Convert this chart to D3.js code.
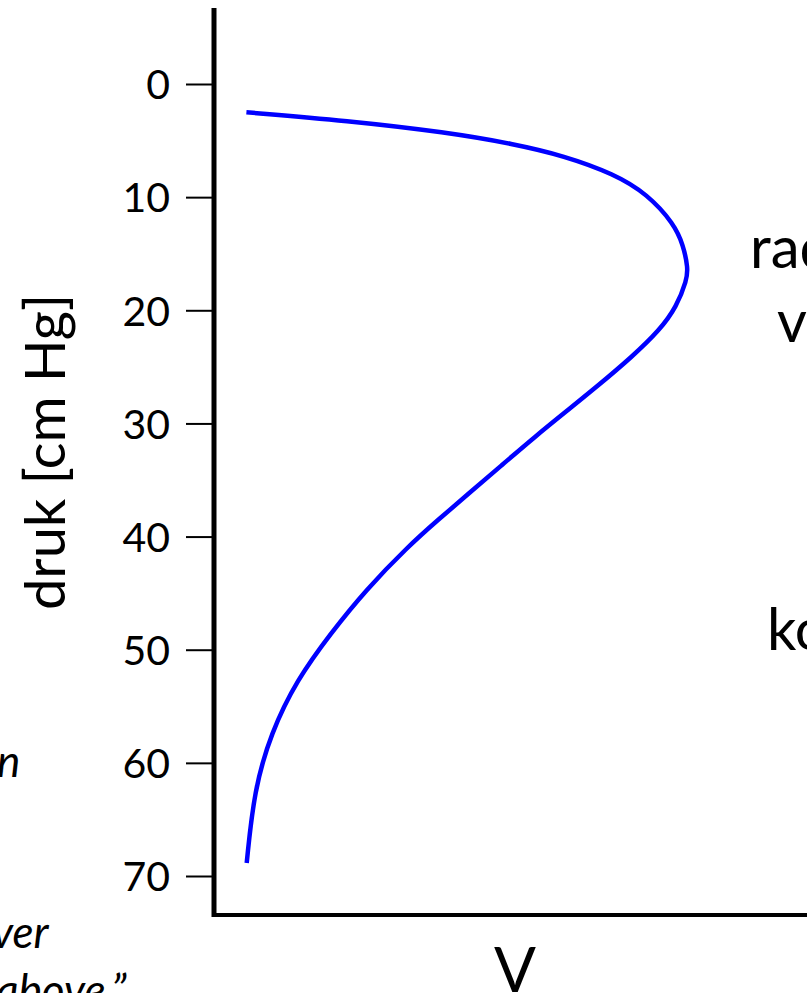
<!DOCTYPE html>
<html>
<head>
<meta charset="utf-8">
<script src="https://cdn.jsdelivr.net/npm/d3@7"></script>
<style>
  html, body { margin: 0; padding: 0; background: #fff; overflow: hidden; }
  svg { display: block; }
  text { font-family: Lato, "Open Sans", sans-serif; fill: #000; }
</style>
</head>
<body>
<svg id="chart" width="807" height="993"></svg>
<script>
// ---- data ----
const pressure = [2.5, 3.24, 4.27, 5.3, 6.34, 7.95, 9.72, 12.37, 14.23, 16.26, 17.32, 19.68, 21.74, 24.1, 26.75, 28.81, 31.17, 33.67, 36.18, 38.54, 40.9, 44.72, 48.52, 52.67, 57.36, 62.4, 68.85];
const volume   = [0.54, 2.22, 3.88, 5.0, 5.83, 6.67, 7.22, 7.67, 7.82, 7.9, 7.88, 7.71, 7.43, 6.97, 6.38, 5.9, 5.35, 4.8, 4.25, 3.73, 3.23, 2.53, 1.95, 1.38, 0.95, 0.67, 0.545];
const yTicks = [0, 10, 20, 30, 40, 50, 60, 70];
const yLabel = "druk [cm Hg]";
const xLabel = "V";
const rightTexts = ["rad", "v", "ko"];
const leftTexts = ["n", "ver", "above.\u201D"];

// ---- layout ----
const svg = d3.select("#chart");
const W = 807, H = 993;
const axisX = 214, axisBottom = 915, axisTop = 8;

const x = d3.scaleLinear().domain([0, 10]).range([axisX, axisX + 600]);
const y = d3.scaleLinear().domain([0, 70]).range([84, 876]);

// y axis ticks + labels
const yAxis = d3.axisLeft(y).tickValues(yTicks).tickSize(28).tickPadding(16).tickSizeOuter(0);
const gy = svg.append("g").attr("transform", `translate(${axisX},0)`).call(yAxis);
gy.select(".domain").remove();
gy.selectAll(".tick line").attr("stroke", "#000").attr("stroke-width", 2);
gy.selectAll(".tick text").style("font-size", "41px").attr("fill", "#000").attr("dy", "0.36em");

// axis lines
svg.append("line").attr("x1", axisX).attr("x2", axisX).attr("y1", axisTop).attr("y2", axisBottom + 2)
  .attr("stroke", "#000").attr("stroke-width", 5);
svg.append("line").attr("x1", axisX - 2).attr("x2", W).attr("y1", axisBottom).attr("y2", axisBottom)
  .attr("stroke", "#000").attr("stroke-width", 4);

// curve
const pts = pressure.map((p, i) => [volume[i], p]);
const line = d3.line().x(d => x(d[0])).y(d => y(d[1])).curve(d3.curveBasis);
svg.append("path").datum(pts).attr("d", line)
  .attr("fill", "none").attr("stroke", "#0000ff").attr("stroke-width", 4.5);

// axis titles
svg.append("text").attr("transform", "translate(65,452) rotate(-90)")
  .attr("text-anchor", "middle").style("font-size", "56px").text(yLabel);
svg.append("text").attr("x", 515).attr("y", 992).attr("text-anchor", "middle")
  .style("font-size", "62px").text(xLabel);

// right-side (clipped) texts
svg.append("text").attr("x", 750).attr("y", 268).style("font-size", "58px").text(rightTexts[0]);
svg.append("text").attr("x", 777).attr("y", 342).style("font-size", "58px").text(rightTexts[1]);
svg.append("text").attr("x", 767).attr("y", 650).style("font-size", "58px").text(rightTexts[2]);

// left-side (clipped) italic texts
svg.append("text").attr("x", -3).attr("y", 777).style("font-size", "44px").style("font-style", "italic").text(leftTexts[0]);
svg.append("text").attr("x", -8).attr("y", 948).style("font-size", "44px").style("font-style", "italic").text(leftTexts[1]);
svg.append("text").attr("x", -4).attr("y", 1006).style("font-size", "44px").style("font-style", "italic").text(leftTexts[2]);
</script>
</body>
</html>
